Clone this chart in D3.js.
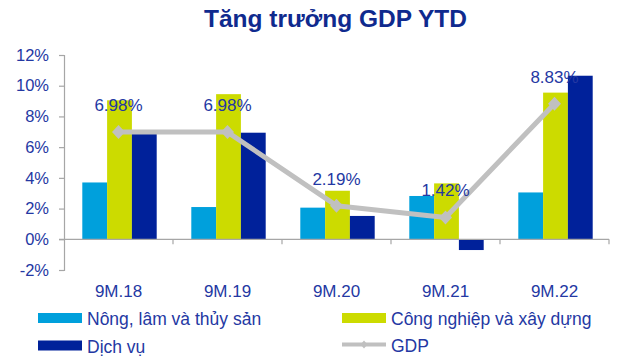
<!DOCTYPE html>
<html><head><meta charset="utf-8">
<script src="https://cdn.jsdelivr.net/npm/d3@7"></script>
<style>html,body{margin:0;padding:0;background:#fff;}svg{display:block;font-family:"Liberation Sans",Arial,sans-serif;}</style>
</head><body><svg id="c" width="630" height="359"></svg>
<script>
const categories = ["9M.18","9M.19","9M.20","9M.21","9M.22"];
const seriesNames = ["Nông, lâm và thủy sản","Công nghiệp và xây dựng","Dịch vụ"];
const agri = [3.7, 2.1, 2.06, 2.82, 3.05];
const industry = [9.05, 9.45, 3.16, 3.64, 9.55];
const services = [6.86, 6.94, 1.52, -0.7, 10.65];
const gdp = [6.98, 6.98, 2.19, 1.42, 8.83];
const gdpLabels = ["6.98%","6.98%","2.19%","1.42%","8.83%"];
const yTicks = [-2,0,2,4,6,8,10,12];
const title = "Tăng trưởng GDP YTD";

const colors = ["#00a0dc","#ccdb00","#00219a"];
const textBlue = "#2438a3";
const svg = d3.select("#c");

const x0 = d3.scaleBand().domain(categories).range([64, 609]).paddingInner(0).paddingOuter(0);
const x1 = d3.scaleBand().domain(seriesNames).range([18.3, 92.7]).padding(0);
const y = d3.scaleLinear().domain([-2, 12]).range([270, 55]);

// title
svg.append("text").attr("x", 335.5).attr("y", 26.5).attr("text-anchor","middle")
  .attr("font-size", 24.5).attr("font-weight","bold").attr("fill","#0f2a8e").text(title);

// bars
const seriesData = [agri, industry, services];
seriesData.forEach((vals, si) => {
  svg.append("g").selectAll("rect").data(vals).join("rect")
    .attr("x", (d,i) => x0(categories[i]) + x1(seriesNames[si]))
    .attr("width", x1.bandwidth())
    .attr("y", d => y(Math.max(0,d)))
    .attr("height", d => Math.abs(y(d) - y(0)))
    .attr("fill", colors[si]);
});

// y axis
const yAxis = d3.axisLeft(y).tickValues(yTicks).tickFormat(d => d + "%").tickSize(5).tickPadding(10);
const gy = svg.append("g").attr("transform","translate(64,0)").call(yAxis);
gy.select(".domain").attr("stroke","#a6a6a6").attr("stroke-width",1.2);
gy.selectAll(".tick line").attr("stroke","#a6a6a6").attr("stroke-width",1.2);
gy.selectAll(".tick text").attr("fill",textBlue).attr("font-size",16.5).attr("font-family","Liberation Sans, Arial, sans-serif");

// x axis at zero
const xTickPos = categories.map(c => x0(c) + x0.bandwidth());
const gx = svg.append("g").attr("transform",`translate(0,${y(0)})`);
gx.append("line").attr("x1",59).attr("x2",609).attr("y1",0).attr("y2",0).attr("stroke","#a6a6a6").attr("stroke-width",1.2);
gx.selectAll("line.t").data(xTickPos).join("line").attr("class","t")
  .attr("x1",d=>d).attr("x2",d=>d).attr("y1",0).attr("y2",5).attr("stroke","#a6a6a6").attr("stroke-width",1.2);

// category labels
svg.append("g").selectAll("text").data(categories).join("text")
  .attr("x", d => x0(d) + x0.bandwidth()/2).attr("y", 296.5)
  .attr("text-anchor","middle").attr("font-size",17).attr("fill",textBlue).text(d=>d);

// GDP line
const cx = i => x0(categories[i]) + x0.bandwidth()/2;
const line = d3.line().x((d,i)=>cx(i)).y(d=>y(d));
svg.append("path").datum(gdp).attr("d", line).attr("fill","none")
  .attr("stroke","#c0c0c0").attr("stroke-width",5).attr("stroke-linejoin","round");
const diamond = "M0,-7L6.5,0L0,7L-6.5,0Z";
svg.append("g").selectAll("path").data(gdp).join("path")
  .attr("transform",(d,i)=>`translate(${cx(i)},${y(d)})`).attr("d",diamond).attr("fill","#c0c0c0");

// GDP labels
svg.append("g").selectAll("text").data(gdp).join("text")
  .attr("x",(d,i)=>cx(i)).attr("y",d=>y(d)-21)
  .attr("text-anchor","middle").attr("font-size",17).attr("fill",textBlue)
  .text((d,i)=>gdpLabels[i]);

// legend
const legendItems = [
  {name: seriesNames[0], type:"rect", color: colors[0], x:38, y:318},
  {name: seriesNames[1], type:"rect", color: colors[1], x:342, y:318},
  {name: seriesNames[2], type:"rect", color: colors[2], x:38, y:345.5},
  {name: "GDP", type:"line", color:"#c0c0c0", x:342, y:344.5}
];
const lg = svg.append("g").selectAll("g").data(legendItems).join("g")
  .attr("transform", d => `translate(${d.x},${d.y})`);
lg.filter(d=>d.type==="rect").append("rect").attr("x",0).attr("y",-5).attr("width",44).attr("height",10).attr("fill",d=>d.color);
lg.filter(d=>d.type==="line").append("line").attr("x1",0).attr("x2",44).attr("y1",0).attr("y2",0).attr("stroke",d=>d.color).attr("stroke-width",4);
lg.filter(d=>d.type==="line").append("path").attr("transform","translate(22,0)").attr("d","M0,-4L3.5,0L0,4L-3.5,0Z").attr("fill",d=>d.color);
lg.append("text").attr("x",49).attr("y",1).attr("dominant-baseline","central")
  .attr("font-size",17.5).attr("fill",textBlue).text(d=>d.name);
</script></body></html>
